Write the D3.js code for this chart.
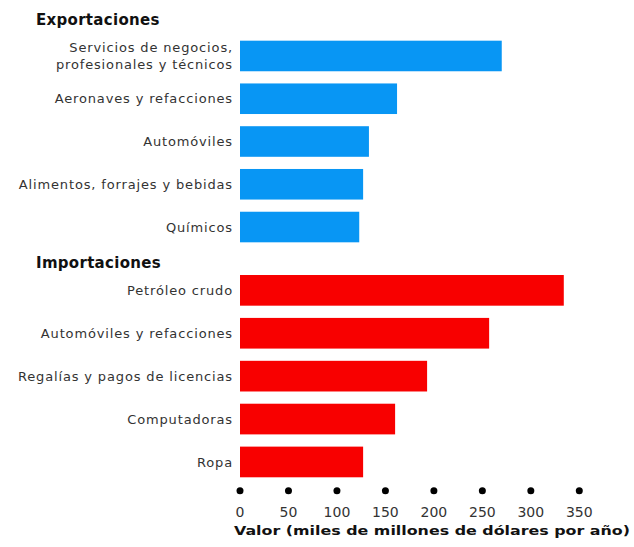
<!DOCTYPE html>
<html><head><meta charset="utf-8">
<script src="https://cdn.jsdelivr.net/npm/d3@7"></script>
<style>body{margin:0;background:#fff}svg{display:block}</style>
</head><body>
<script>
const exportCats = [["Servicios de negocios,","profesionales y técnicos"],["Aeronaves y refacciones"],["Automóviles"],["Alimentos, forrajes y bebidas"],["Químicos"]];
const exportVals = [270, 162, 133, 127, 123];
const importCats = [["Petróleo crudo"],["Automóviles y refacciones"],["Regalías y pagos de licencias"],["Computadoras"],["Ropa"]];
const importVals = [334, 257, 193, 160, 127];
const xTicks = [0, 50, 100, 150, 200, 250, 300, 350];
const groupTitles = ["Exportaciones", "Importaciones"];
const axisTitle = "Valor (miles de millones de dólares por año)";

const W = 634, H = 547;
const svg = d3.select("body").append("svg").attr("width", W).attr("height", H);
const x = d3.scaleLinear().domain([0, 350]).range([240, 579.3]);
const font = "DejaVu Sans, sans-serif";

function group(cats, vals, range, color, title, titleY) {
  const keys = cats.map((c, i) => i);
  const y = d3.scaleBand().domain(keys).range(range).paddingInner(0.285).paddingOuter(0.14);
  svg.append("text").attr("x", 36).attr("y", titleY).text(title)
    .attr("font-family", font).attr("font-weight", "bold").attr("font-size", 15)
    .attr("letter-spacing", 0.3).attr("fill", "#111");
  svg.selectAll(null).data(keys).enter().append("rect")
    .attr("x", x(0)).attr("y", i => y(i)).attr("height", y.bandwidth())
    .attr("width", i => x(vals[i]) - x(0)).attr("fill", color);
  keys.forEach(i => {
    const lines = cats[i];
    const cy = y(i) + y.bandwidth() / 2;
    const t = svg.append("text").attr("text-anchor", "end").attr("font-family", font)
      .attr("font-size", 13).attr("letter-spacing", 0.85).attr("fill", "#333");
    lines.forEach((l, j) => {
      t.append("tspan").attr("x", 233)
        .attr("y", cy + (j - (lines.length - 1) / 2) * 17).attr("dy", "0.35em").text(l);
    });
  });
}
group(exportCats, exportVals, [34.7, 248.3], "#0896f4", groupTitles[0], 25);
group(importCats, importVals, [269, 483.3], "#f80000", groupTitles[1], 268);

svg.selectAll(null).data(xTicks).enter().append("circle")
  .attr("cx", d => x(d)).attr("cy", 490.7).attr("r", 3.5).attr("fill", "#000");
svg.selectAll(null).data(xTicks).enter().append("text")
  .attr("x", d => x(d)).attr("y", 512).attr("dy", "0.35em").attr("text-anchor", "middle")
  .attr("font-family", font).attr("font-size", 14).attr("fill", "#333").text(d => d);
svg.append("text").attr("x", 234).attr("y", 535).text(axisTitle)
  .attr("font-family", font).attr("font-weight", "bold").attr("font-size", 13).attr("fill", "#111")
  .attr("textLength", 396).attr("lengthAdjust", "spacingAndGlyphs");
</script>
</body></html>
